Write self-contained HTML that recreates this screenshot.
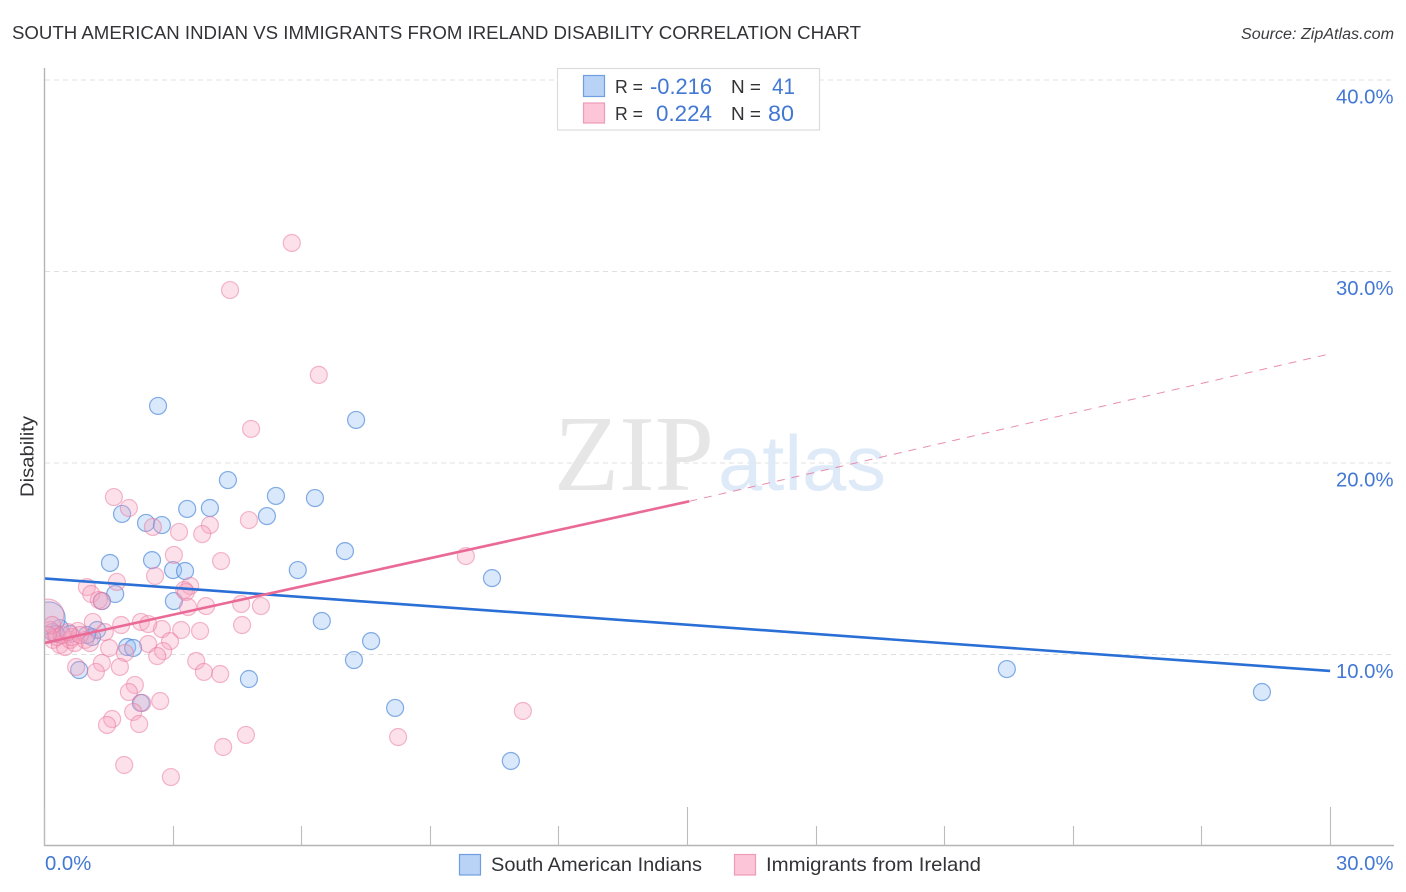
<!DOCTYPE html>
<html lang="en">
<head>
<meta charset="utf-8">
<title>South American Indian vs Immigrants from Ireland Disability Correlation Chart</title>
<style>
html,body{margin:0;padding:0;background:#fff;width:1406px;height:892px;overflow:hidden}
svg{display:block;font-family:"Liberation Sans",sans-serif}
</style>
</head>
<body>
<svg id="chart" xmlns="http://www.w3.org/2000/svg" width="1406" height="892" viewBox="0 0 1406 892">
  <defs><clipPath id="plot-clip"><rect x="44.5" y="60" width="1350" height="786"/></clipPath></defs>
  <text x="12" y="39" font-size="18.5" fill="#333337" textLength="849" lengthAdjust="spacingAndGlyphs">SOUTH AMERICAN INDIAN VS IMMIGRANTS FROM IRELAND DISABILITY CORRELATION CHART</text>
  <text x="1241" y="39" font-size="15.5" font-style="italic" fill="#3c3c40" textLength="153" lengthAdjust="spacingAndGlyphs">Source: ZipAtlas.com</text>
  <text transform="translate(33.5,497) rotate(-90)" font-size="18.5" fill="#333337" textLength="81" lengthAdjust="spacingAndGlyphs">Disability</text>
  <g id="grid"></g>
  <text x="554" y="490" font-family="'Liberation Serif',serif" font-size="108" fill="#e6e6e6" textLength="160" lengthAdjust="spacingAndGlyphs">ZIP</text>
  <text x="718" y="490" font-size="78" fill="#deeaf8" textLength="168" lengthAdjust="spacingAndGlyphs">atlas</text>
  <g id="points" clip-path="url(#plot-clip)"></g>
  <g id="trends"></g>
  <g id="axes"></g>
  <g id="ytick-labels"></g>
  <g id="xtick-labels"></g>

  <g>
    <rect x="557.5" y="68.5" width="262" height="61.5" fill="#fff" stroke="#dcdcdc" stroke-width="1.2"/>
    <rect x="583.5" y="75.5" width="21" height="21" fill="#b8d3f6" stroke="#6f9fe0" stroke-width="1.2"/>
    <rect x="583.5" y="103" width="21" height="20" fill="#fcc5d8" stroke="#ee9db8" stroke-width="1.2"/>
    <text x="615" y="93" font-size="18.5" fill="#333337" textLength="28" lengthAdjust="spacingAndGlyphs">R =</text>
    <text x="650" y="94" font-size="22" fill="#4278d4" textLength="62" lengthAdjust="spacingAndGlyphs">-0.216</text>
    <text x="731" y="93" font-size="18.5" fill="#333337" textLength="30" lengthAdjust="spacingAndGlyphs">N =</text>
    <text x="772" y="94" font-size="22" fill="#4278d4" textLength="23" lengthAdjust="spacingAndGlyphs">41</text>
    <text x="615" y="120" font-size="18.5" fill="#333337" textLength="28" lengthAdjust="spacingAndGlyphs">R =</text>
    <text x="656" y="121" font-size="22" fill="#4278d4" textLength="56" lengthAdjust="spacingAndGlyphs">0.224</text>
    <text x="731" y="120" font-size="18.5" fill="#333337" textLength="30" lengthAdjust="spacingAndGlyphs">N =</text>
    <text x="768" y="121" font-size="22" fill="#4278d4" textLength="26" lengthAdjust="spacingAndGlyphs">80</text>
  </g>

  <g>
    <rect x="459.5" y="854.5" width="21" height="20.5" fill="#b8d3f6" stroke="#6f9fe0" stroke-width="1.2"/>
    <text x="491" y="871" font-size="19.5" fill="#333337" textLength="211" lengthAdjust="spacingAndGlyphs">South American Indians</text>
    <rect x="734.5" y="854.5" width="21" height="20.5" fill="#fcc5d8" stroke="#ee9db8" stroke-width="1.2"/>
    <text x="766" y="871" font-size="19.5" fill="#333337" textLength="215" lengthAdjust="spacingAndGlyphs">Immigrants from Ireland</text>
  </g>
</svg>
<script>
const NS = 'http://www.w3.org/2000/svg';

const yTickValues = [10, 20, 30, 40];
const yTickLabels = ['10.0%', '20.0%', '30.0%', '40.0%'];
const xTickValues = [0, 3, 6, 9, 12, 15, 18, 21, 24, 27, 30];
const xMajorTicks = [0, 15, 30];
const xEndLabels = ['0.0%', '30.0%'];
const xEndValues = [0, 30];

const blueX = [2.66,7.28,4.29,5.41,6.32,3.34,3.87,1.82,5.20,2.38,2.75,7.02,2.52,1.54,5.92,3.01,3.29,10.45,1.66,1.35,3.03,6.48,7.63,1.94,2.08,7.23,4.78,0.82,2.26,8.19,10.89,22.46,28.41,1.24,1.12,1.00,0.37,0.19,0.12,0.61,0.28];
const blueY = [22.98,22.25,19.11,18.28,18.17,17.60,17.65,17.34,17.23,16.87,16.76,15.40,14.93,14.78,14.41,14.41,14.36,13.99,13.16,12.79,12.79,11.75,10.70,10.39,10.34,9.71,8.72,9.19,7.47,7.21,4.44,9.24,8.04,11.28,10.91,11.02,11.38,11.17,11.91,11.07,11.07];
const blueWeight = [1,1,1,1,1,1,1,1,1,1,1,1,1,1,1,1,1,1,1,1,1,1,1,1,1,1,1,1,1,1,1,1,1,1,1,1,1,1,3.54,1,1];

const pinkX = [5.78,4.34,6.41,4.83,1.63,1.98,4.78,3.87,2.54,3.69,3.15,3.03,4.13,2.59,1.70,1.00,3.41,3.27,3.31,1.10,1.28,1.35,4.60,5.06,3.78,3.36,4.62,3.64,2.75,3.20,2.26,2.43,1.80,1.14,1.42,0.79,1.52,2.43,2.94,1.89,2.78,2.64,3.55,1.35,0.75,1.77,3.73,4.11,1.21,2.12,1.98,2.71,2.29,2.08,1.59,1.47,2.22,4.71,4.18,8.26,11.17,1.87,2.96,9.84,0.09,0.14,0.21,0.37,0.49,0.61,0.72,0.30,0.96,0.19,0.42,0.65,0.84,0.56,0.09,1.07];
const pinkY = [31.49,29.03,24.60,21.78,18.22,17.65,17.02,16.76,16.66,16.29,16.40,15.20,14.88,14.10,13.79,13.52,13.58,13.37,13.26,13.16,12.85,12.79,12.64,12.53,12.53,12.48,11.54,11.23,11.33,11.28,11.70,11.59,11.54,11.70,11.17,11.23,10.34,10.55,10.70,10.08,10.18,9.92,9.66,9.56,9.35,9.35,9.09,8.98,9.09,8.41,8.04,7.57,7.47,7.00,6.63,6.32,6.37,5.80,5.17,5.69,7.05,4.23,3.60,15.14,12.06,11.28,10.76,10.50,10.39,10.76,10.60,10.91,10.76,11.54,11.02,10.91,11.02,11.17,11.02,10.60];
const pinkWeight = [1,1,1,1,1,1,1,1,1,1,1,1,1,1,1,1,1,1,1,1,1,1,1,1,1,1,1,1,1,1,1,1,1,1,1,1,1,1,1,1,1,1,1,1,1,1,1,1,1,1,1,1,1,1,1,1,1,1,1,1,1,1,1,1,3.54,1,1,1,1,1,1,1,1,1,1,1,1,1,1,1];

const blueTrendX = [0, 30];
const blueTrendY = [13.97, 9.14];
const pinkTrendX = [0, 15.05];
const pinkTrendY = [10.6, 18.0];
const pinkDashX = [15.05, 30];
const pinkDashY = [18.0, 25.7];

function xScale(v) { return 44 + v * 42.87; }
function yScale(v) { return 846 - v * 19.15; }

function make(tag, attrs, parent) {
  const el = document.createElementNS(NS, tag);
  for (const k in attrs) el.setAttribute(k, attrs[k]);
  parent.appendChild(el);
  return el;
}

const grid = document.getElementById('grid');
yTickValues.forEach(function (v) {
  const l = make('line', {x1: 45, x2: 1394, y1: yScale(v), y2: yScale(v), stroke: '#e0e0e0', 'stroke-width': 1, 'stroke-dasharray': '5 4'}, grid);
  
  
});

const axes = document.getElementById('axes');
const xAxisLine = make('line', {x1: 44, x2: 1394, y1: 845.5, y2: 845.5, stroke: '#b4b4b4', 'stroke-width': 1.4}, axes);


const yAxisLine = make('line', {x1: 44.5, x2: 44.5, y1: 68, y2: 846, stroke: '#b4b4b4', 'stroke-width': 1.4}, axes);


xTickValues.forEach(function (v) {
  const top = xMajorTicks.indexOf(v) >= 0 ? 807 : 826;
  const px = Math.round(xScale(v)) + 0.5;
  const t = make('line', {x1: px, x2: px, y1: top, y2: 846, stroke: '#bcbcbc', 'stroke-width': 1.1}, axes);
  
  
});

const yLabels = document.getElementById('ytick-labels');
yTickValues.forEach(function (v, i) {
  const t = make('text', {x: 1393.5, y: yScale(v) + 23.5, 'text-anchor': 'end', 'font-size': 20.3, fill: '#4278d4'}, yLabels);
  
  
  t.textContent = yTickLabels[i];
});

const xLabels = document.getElementById('xtick-labels');
xEndValues.forEach(function (v, i) {
  const anchorEnd = v > 0;
  const t = make('text', {x: anchorEnd ? 1393.5 : 45, y: 870, 'text-anchor': anchorEnd ? 'end' : 'start', 'font-size': 20.3, fill: '#4278d4'}, xLabels);
  
  
  t.textContent = xEndLabels[i];
});

const points = document.getElementById('points');
function drawSeries(xs, ys, ws, fill, stroke, name) {
  xs.forEach(function (x, i) {
    const c = make('circle', {cx: xScale(x), cy: yScale(ys[i]), r: 8.5 * Math.sqrt(ws[i]), fill: fill, stroke: stroke, 'stroke-width': 1.2}, points);
    
    
  });
}
drawSeries(blueX, blueY, blueWeight, 'rgba(150,190,240,0.36)', 'rgba(60,125,215,0.62)', 'point-south-american-indians');
drawSeries(pinkX, pinkY, pinkWeight, 'rgba(248,165,192,0.33)', 'rgba(232,115,155,0.5)', 'point-immigrants-from-ireland');

const trends = document.getElementById('trends');
const blueLine = make('line', {x1: xScale(blueTrendX[0]), y1: yScale(blueTrendY[0]), x2: xScale(blueTrendX[1]), y2: yScale(blueTrendY[1]), stroke: '#2a6fd6', 'stroke-width': 2.6}, trends);


const pinkDash = make('line', {x1: xScale(pinkDashX[0]), y1: yScale(pinkDashY[0]), x2: xScale(pinkDashX[1]), y2: yScale(pinkDashY[1]), stroke: '#e77a9f', 'stroke-width': 1, 'stroke-dasharray': '8 7', opacity: 0.85}, trends);


const pinkLine = make('line', {x1: xScale(pinkTrendX[0]), y1: yScale(pinkTrendY[0]), x2: xScale(pinkTrendX[1]), y2: yScale(pinkTrendY[1]), stroke: '#ea6a97', 'stroke-width': 2.6}, trends);


</script>
</body>
</html>
